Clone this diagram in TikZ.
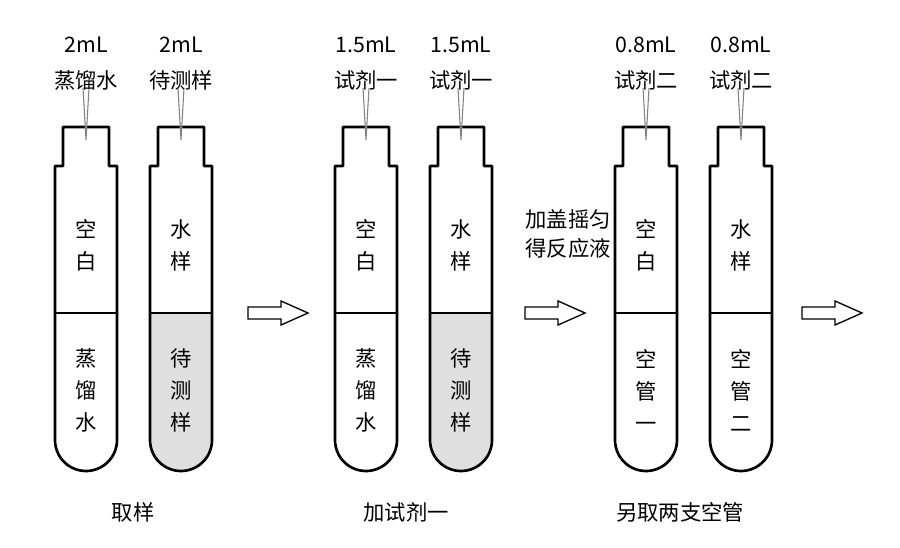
\documentclass[tikz,border=0pt]{standalone}
\usepackage{fontspec}
\setmainfont{Noto Sans CJK SC}
\tikzset{
  lbl/.style={font=\fontsize{16}{20}\selectfont},
  fat/.style={draw=black,line width=1pt,line join=miter},
}
\newcommand{\tubeshape}[2]{%
  \draw[line width=2pt,line join=round] (#1-23,166) -- (#1-23,127) -- (#1+23,127) -- (#1+23,166)
    -- (#1+31,166) -- (#1+31,440) arc[start angle=0,end angle=180,radius=31] -- (#1-31,166) -- cycle;
  \draw[line width=1.3pt] (#1-31,313) -- (#1+31,313);
  \draw[gray,line width=0.8pt] (#1-3,88) -- (#1,140) -- (#1+3,88);}
\newcommand{\tubefill}[1]{%
  \fill[gray!25] (#1-31,313) -- (#1+31,313) -- (#1+31,440) arc[start angle=0,end angle=180,radius=31] -- cycle;}
\newcommand{\steparrow}[1]{%
  \draw[fat] (#1-30,307) -- (#1+3,307) -- (#1+3,301) -- (#1+30,313) -- (#1+3,325) -- (#1+3,319) -- (#1-30,319) -- cycle;}
\begin{document}
\begin{tikzpicture}[x=0.75pt,y=-0.75pt]
    \useasboundingbox (0,0) rectangle (900,547);
    \tubefill{181}
    \tubefill{461}
    \tubeshape{86}{A}
    \tubeshape{181}{B}
    \tubeshape{366}{C}
    \tubeshape{461}{D}
    \tubeshape{646}{E}
    \tubeshape{741}{F}
    % volumes
    \node[lbl] (vA) at (86,45) {2mL};
    \node[lbl] (nA) at (86,80) {蒸馏水};
    \node[lbl] (vB) at (181,45) {2mL};
    \node[lbl] (nB) at (181,80) {待测样};
    \node[lbl] (vC) at (366,45) {1.5mL};
    \node[lbl] (nC) at (366,80) {试剂一};
    \node[lbl] (vD) at (461,45) {1.5mL};
    \node[lbl] (nD) at (461,80) {试剂一};
    \node[lbl] (vE) at (646,45) {0.8mL};
    \node[lbl] (nE) at (646,80) {试剂二};
    \node[lbl] (vF) at (741,45) {0.8mL};
    \node[lbl] (nF) at (741,80) {试剂二};
    % tube contents
    \node[lbl,align=center] (uA) at (86,245) {空\\[4pt]白};
    \node[lbl,align=center] (dA) at (86,390) {蒸\\[4pt]馏\\[4pt]水};
    \node[lbl,align=center] (uB) at (181,245) {水\\[4pt]样};
    \node[lbl,align=center] (dB) at (181,390) {待\\[4pt]测\\[4pt]样};
    \node[lbl,align=center] (uC) at (366,245) {空\\[4pt]白};
    \node[lbl,align=center] (dC) at (366,390) {蒸\\[4pt]馏\\[4pt]水};
    \node[lbl,align=center] (uD) at (461,245) {水\\[4pt]样};
    \node[lbl,align=center] (dD) at (461,390) {待\\[4pt]测\\[4pt]样};
    \node[lbl,align=center] (uE) at (646,245) {空\\[4pt]白};
    \node[lbl,align=center] (dE) at (646,390) {空\\[4pt]管\\[4pt]一};
    \node[lbl,align=center] (uF) at (741,245) {水\\[4pt]样};
    \node[lbl,align=center] (dF) at (741,390) {空\\[4pt]管\\[4pt]二};
    % steps
    \steparrow{278}
    \steparrow{555}
    \steparrow{832}
    \node[lbl,align=center] (shake) at (568,234) {加盖摇匀\\[2pt]得反应液};
    \node[lbl] (c1) at (133,512) {取样};
    \node[lbl] (c2) at (406,512) {加试剂一};
    \node[lbl] (c3) at (680,512) {另取两支空管};
\end{tikzpicture}
\end{document}
